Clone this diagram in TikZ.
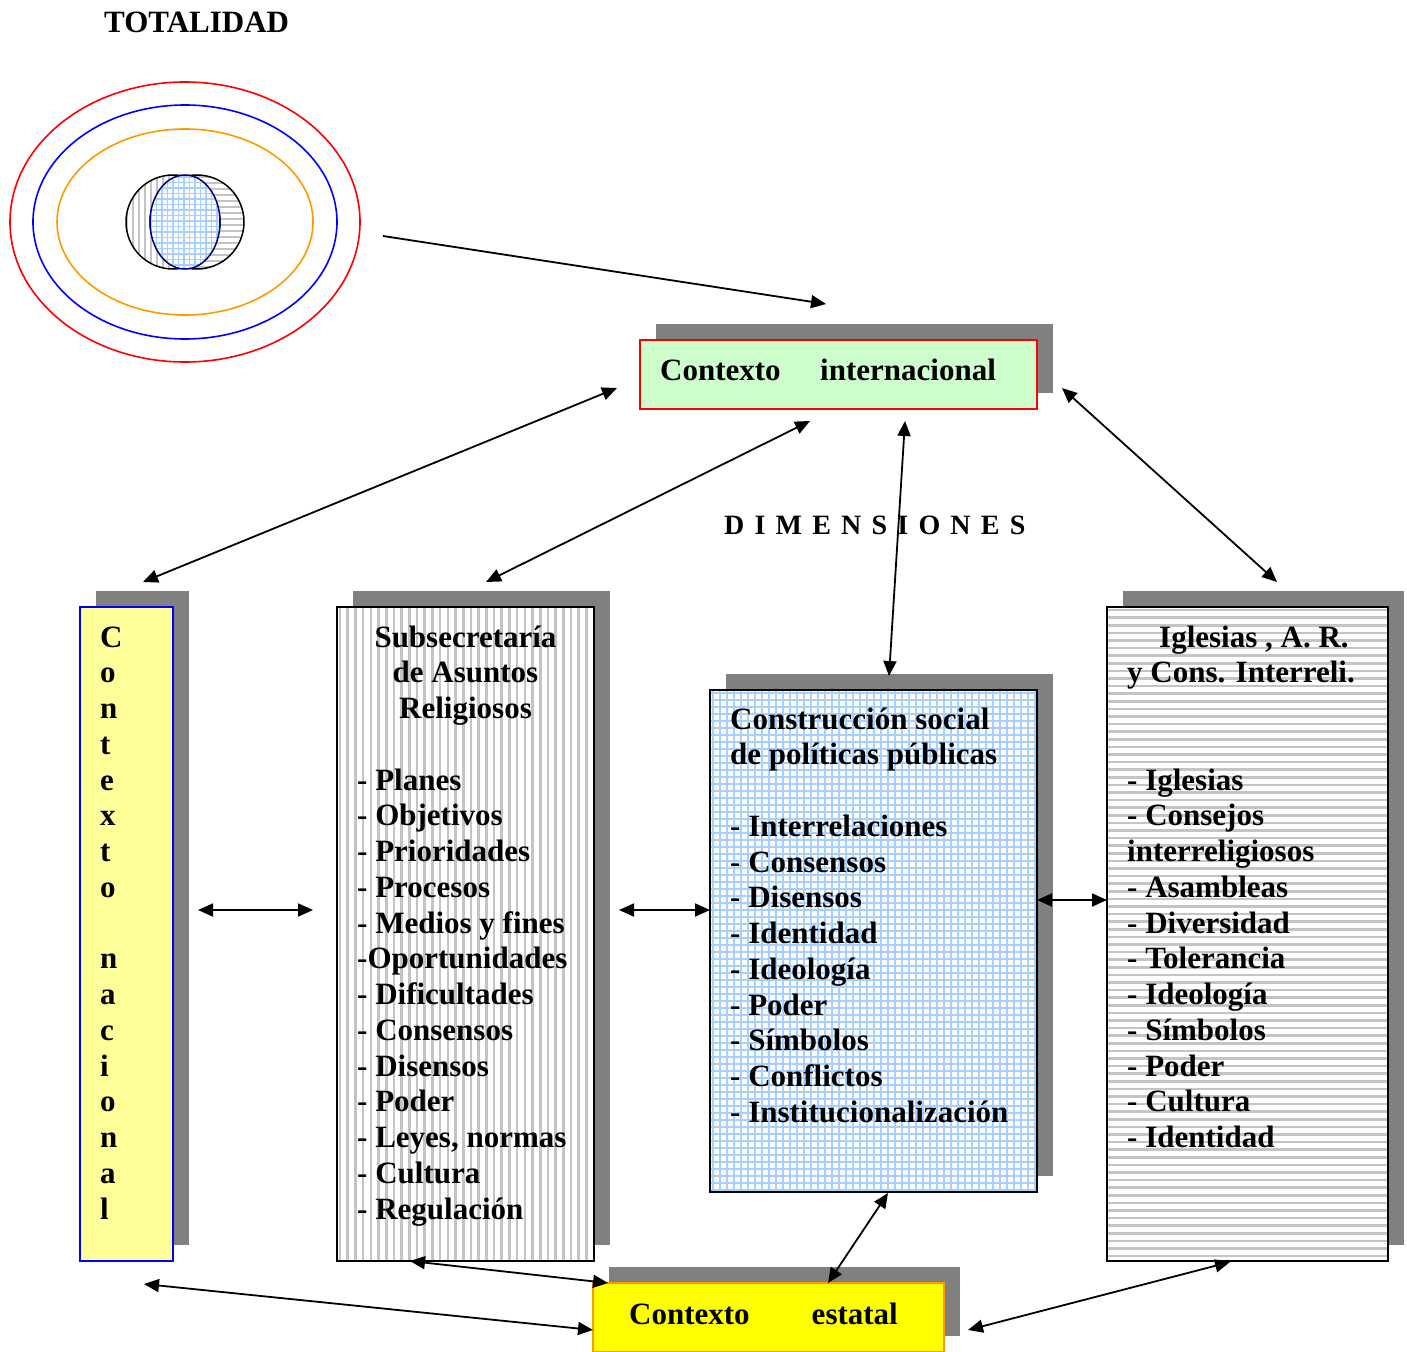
\documentclass[tikz,border=0pt]{standalone}
\usepackage{fontspec}
\setmainfont{Liberation Serif}
\usetikzlibrary{arrows.meta,calc,backgrounds,shapes.geometric}
\definecolor{shadowgray}{HTML}{808080}
\definecolor{intgreen}{HTML}{CCFFCC}
\definecolor{nacyellow}{HTML}{FFFF99}
\definecolor{estyellow}{HTML}{FFFF00}
\definecolor{estorange}{HTML}{FF9900}
\definecolor{gridblue}{HTML}{A6D0FF}
\definecolor{stripegray}{HTML}{C4C4C4}
\definecolor{navyline}{HTML}{000080}
\definecolor{ellorange}{HTML}{FF9900}
\begin{document}
\begin{tikzpicture}[x=1pt,y=-1pt,
  txt/.style={font=\fontsize{31}{35.75}\selectfont\bfseries, inner sep=0pt, anchor=base west},
  ctxt/.style={txt, anchor=base},
  boxa/.style={draw, line width=1.6pt, inner sep=0pt, outer sep=0pt, rectangle},
  vstripes/.style={path picture={\foreach \i in {0,...,34}{\draw[stripegray, line width=2.6pt] ([xshift=\i*7.7pt+3pt]path picture bounding box.north west) -- ([xshift=\i*7.7pt+3pt]path picture bounding box.south west);}}},
  hstripes/.style={path picture={\foreach \i in {0,...,86}{\draw[stripegray, line width=2.6pt] ([yshift=-\i*7.6pt-3pt]path picture bounding box.north west) -- ([yshift=-\i*7.6pt-3pt]path picture bounding box.north east);}}},
  bgrid/.style={path picture={\foreach \i in {0,...,47}{\draw[gridblue, line width=2pt] ([xshift=\i*7pt+3pt]path picture bounding box.north west) -- ([xshift=\i*7pt+3pt]path picture bounding box.south west);}
     \foreach \i in {0,...,72}{\draw[gridblue, line width=2pt] ([yshift=-\i*7pt-3pt]path picture bounding box.north west) -- ([yshift=-\i*7pt-3pt]path picture bounding box.north east);}}},
  conn/.style={line width=1.8pt, {Triangle[length=15pt,width=13pt]}-{Triangle[length=15pt,width=13pt]}},
  conn1/.style={line width=1.8pt, -{Triangle[length=15pt,width=13pt]}},
  shadowbox/.style={fill=shadowgray}
]
\useasboundingbox (0,0) rectangle (1407,1351);
\clip (0,0) rectangle (1407,1351);

% ---------- TOTALIDAD ----------
\node[txt] (totl) at (104,33) {TOTALIDAD};

\node[ellipse, draw=red, line width=1.6pt, minimum width=350pt, minimum height=280pt, inner sep=0pt] (tot) at (185,222) {};
\draw[blue, line width=1.6pt] (185,222) ellipse [x radius=152pt, y radius=117pt];
\draw[ellorange, line width=1.6pt] (185,222) ellipse [x radius=128pt, y radius=93pt];

% left circle with vertical stripes
\begin{scope}
  \clip (173,222) circle [radius=47pt];
  \fill[white] (120,170) rectangle (230,275);
  \foreach \x in {127,133,...,223} \draw[stripegray, line width=2pt] (\x,170) -- (\x,275);
\end{scope}
% right circle with horizontal stripes
\begin{scope}
  \clip (197,222) circle [radius=47pt];
  \fill[white] (145,170) rectangle (250,275);
  \foreach \y in {177,183,...,269} \draw[stripegray, line width=2pt] (145,\y) -- (250,\y);
\end{scope}
\draw[black, line width=1.5pt] (173,222) circle [radius=47pt];
\draw[black, line width=1.5pt] (197,222) circle [radius=47pt];
% middle ellipse with blue grid
\begin{scope}
  \clip (185,222) ellipse [x radius=35pt, y radius=47pt];
  \fill[white] (148,172) rectangle (222,272);
  \foreach \x in {151,156.5,...,221} \draw[gridblue, line width=1.6pt] (\x,172) -- (\x,272);
  \foreach \y in {177,182.5,...,270} \draw[gridblue, line width=1.6pt] (148,\y) -- (222,\y);
\end{scope}
\draw[navyline, line width=1.5pt] (185,222) ellipse [x radius=35pt, y radius=47pt];

% ---------- boxes ----------
\node[boxa, draw=red, fill=intgreen, minimum width=397pt, minimum height=69pt] (int) at (838.5,374.5) {};
\node[boxa, draw=blue, fill=nacyellow, minimum width=93pt, minimum height=654pt] (nac) at (126.5,934) {};
\node[boxa, fill=white, vstripes, minimum width=257pt, minimum height=654pt] (sub) at (465.5,934) {};
\node[boxa, fill=white, bgrid, minimum width=327pt, minimum height=502pt] (con) at (873.5,941) {};
\node[boxa, fill=white, hstripes, minimum width=281pt, minimum height=654pt] (igl) at (1247.5,934) {};
\node[boxa, draw=estorange, fill=estyellow, minimum width=351pt, minimum height=69pt] (est) at (768.5,1317.5) {};

\begin{scope}[on background layer]
  \foreach \b in {int,nac,sub,con,igl,est}
    \fill[shadowbox] ($(\b.north west)+(16,-16)$) rectangle ($(\b.south east)+(16,-16)$);
\end{scope}

% ---------- texts ----------
\node[txt] (intt) at (660,380) {Contexto\hspace{39.5pt}internacional};
\node[txt] (estt) at (629,1324) {Contexto\hspace{62pt}estatal};

\node[font=\fontsize{28}{33}\selectfont\bfseries, inner sep=0pt, anchor=base west] (dim) at (724,534)
  {D\hspace{10.2pt}I\hspace{10.2pt}M\hspace{10.2pt}E\hspace{10.2pt}N\hspace{10.2pt}S\hspace{10.2pt}I\hspace{10.2pt}O\hspace{10.2pt}N\hspace{10.2pt}E\hspace{10.2pt}S};

\foreach \l [count=\i from 0] in {C,o,n,t,e,x,t,o,{},n,a,c,i,o,n,a,l}
  \node[txt] (nac\i) at (100,647+\i*35.75) {\l};

\node[ctxt] (subt1) at (465.5,647) {Subsecretaría};
\node[ctxt] (subt2) at (465.5,682.75) {de Asuntos};
\node[ctxt] (subt3) at (465.5,718.5) {Religiosos};
\foreach \t [count=\i from 0] in {- Planes,- Objetivos,- Prioridades,- Procesos,- Medios y fines,-Oportunidades,- Dificultades,- Consensos,- Disensos,- Poder,{- Leyes, normas},- Cultura,- Regulación}
  \node[txt] (subl\i) at (357,790+\i*35.75) {\t};

\node[txt] (cont1) at (730,729) {Construcción social};
\node[txt] (cont2) at (730,764.75) {de políticas públicas};
\foreach \t [count=\i from 0] in {- Interrelaciones,- Consensos,- Disensos,- Identidad,- Ideología,- Poder,- Símbolos,- Conflictos,- Institucionalización}
  \node[txt] (conl\i) at (730,836.25+\i*35.75) {\t};

\node[txt] (iglt1) at (1159,647) {Iglesias , A. R.};
\node[txt] (iglt2) at (1127,682.75) {y Cons. Interreli.};
\foreach \t [count=\i from 0] in {- Iglesias,- Consejos,interreligiosos,- Asambleas,- Diversidad,- Tolerancia,- Ideología,- Símbolos,- Poder,- Cultura,- Identidad}
  \node[txt] (igll\i) at (1127,790+\i*35.75) {\t};

% ---------- connector end points ----------
\coordinate (totE) at (383,236);
\coordinate (intNW) at (826,304);
\coordinate (intL) at (617,388);
\coordinate (nacT) at (143,582);
\coordinate (intB1) at (810,421);
\coordinate (subT) at (486,582);
\coordinate (intB2) at (905,421);
\coordinate (conT) at (889,676);
\coordinate (intR) at (1062,388);
\coordinate (iglT) at (1277,582);
\coordinate (nacR) at (198,910);
\coordinate (subL) at (313,910);
\coordinate (subR) at (619,910);
\coordinate (conL) at (710,910);
\coordinate (conR) at (1037,900);
\coordinate (iglL) at (1107,900);
\coordinate (conB) at (888,1193);
\coordinate (estT) at (828,1283);
\coordinate (subB) at (410,1261);
\coordinate (estTL) at (608,1283);
\coordinate (nacB) at (144,1284);
\coordinate (estL) at (593,1330);
\coordinate (estR) at (968,1330);
\coordinate (iglB) at (1230,1262);

\draw[conn1] (totE) -- (intNW);
\draw[conn] (intL) -- (nacT);
\draw[conn] (intB1) -- (subT);
\draw[conn] (intB2) -- (conT);
\draw[conn] (intR) -- (iglT);
\draw[conn] (nacR) -- (subL);
\draw[conn] (subR) -- (conL);
\draw[conn] (conR) -- (iglL);
\draw[conn] (conB) -- (estT);
\draw[conn] (subB) -- (estTL);
\draw[conn] (nacB) -- (estL);
\draw[conn] (estR) -- (iglB);
\end{tikzpicture}
\end{document}
